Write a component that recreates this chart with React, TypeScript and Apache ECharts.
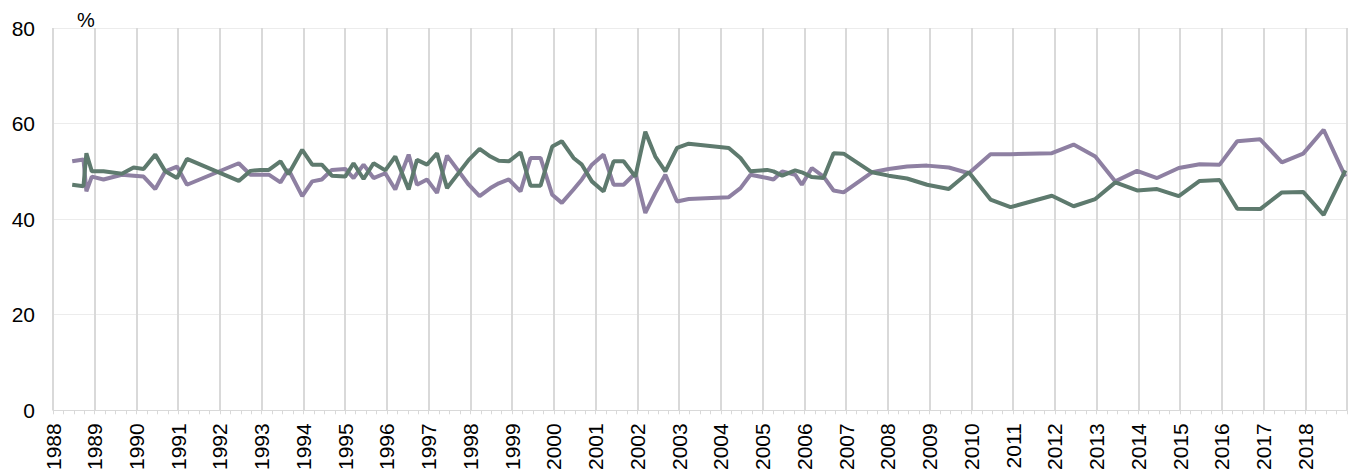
import React, { useEffect, useRef } from "react";
import * as echarts from "echarts";

const dates = [
  1988.46, 1988.73, 1988.8, 1988.93, 1989.21, 1989.65, 1989.93, 1990.17, 1990.45, 1990.69,
  1990.97, 1991.21, 1992.45, 1992.73, 1992.97, 1993.17, 1993.45, 1993.64, 1993.97, 1994.21,
  1994.44, 1994.68, 1995.0, 1995.2, 1995.44, 1995.68, 1995.96, 1996.2, 1996.52, 1996.72,
  1996.96, 1997.2, 1997.44, 1997.96, 1998.22, 1998.48, 1998.68, 1998.92, 1999.2, 1999.44,
  1999.68, 1999.96, 2000.19, 2000.47, 2000.67, 2000.91, 2001.19, 2001.43, 2001.67, 2001.95,
  2002.19, 2002.43, 2002.67, 2002.95, 2003.23, 2004.19, 2004.47, 2004.71, 2005.11, 2005.26,
  2005.47, 2005.78, 2005.94, 2006.18, 2006.46, 2006.7, 2006.94, 2007.62, 2008.02, 2008.46,
  2008.94, 2009.46, 2009.94, 2010.46, 2010.94, 2011.93, 2012.45, 2012.97, 2013.45, 2013.97,
  2014.45, 2014.97, 2015.47, 2015.95, 2016.37, 2016.92, 2017.44, 2017.95, 2018.44, 2018.96,
];

const greenValues = [
  47.2, 46.9, 53.8, 50.0, 50.0, 49.5, 50.8, 50.5, 53.5, 50.0,
  48.6, 52.6, 48.0, 50.1, 50.3, 50.3, 52.1, 49.4, 54.5, 51.4,
  51.4, 49.1, 48.9, 51.7, 48.4, 51.7, 50.2, 53.1, 46.2, 52.4,
  51.4, 53.8, 46.5, 52.4, 54.7, 53.1, 52.2, 52.1, 54.0, 47.0,
  47.0, 55.2, 56.3, 52.8, 51.4, 47.9, 45.8, 52.1, 52.1, 48.9,
  58.3, 53.1, 50.0, 54.9, 55.8, 54.9, 52.8, 50.0, 50.3, 50.0,
  49.1, 50.2, 49.8, 48.8, 48.6, 53.8, 53.7, 49.8, 49.1, 48.5,
  47.2, 46.3, 49.8, 44.1, 42.5, 44.9, 42.7, 44.2, 47.7, 46.0,
  46.3, 44.8, 48.0, 48.2, 42.2, 42.1, 45.6, 45.7, 40.9, 50.2,
];

const purpleValues = [
  52.1, 52.5, 45.8, 48.9, 48.3, 49.3, 49.1, 48.9, 46.3, 50.0,
  51.0, 47.2, 51.7, 49.3, 49.3, 49.3, 47.7, 50.4, 44.8, 47.9,
  48.3, 50.3, 50.5, 48.6, 51.4, 48.6, 49.6, 46.2, 53.5, 47.2,
  48.3, 45.5, 53.3, 47.2, 44.8, 46.5, 47.5, 48.3, 45.8, 52.8,
  52.8, 45.1, 43.4, 46.2, 48.3, 51.4, 53.5, 47.2, 47.2, 49.6,
  41.3, 45.5, 49.3, 43.7, 44.2, 44.6, 46.5, 49.3, 48.6, 48.3,
  50.0, 49.3, 47.2, 50.7, 48.9, 46.0, 45.6, 49.8, 50.5, 51.0,
  51.2, 50.8, 49.6, 53.6, 53.6, 53.8, 55.6, 53.1, 47.9, 50.1,
  48.6, 50.7, 51.5, 51.4, 56.3, 56.7, 51.9, 53.7, 58.7, 48.9,
];

const yearMin = 1988;
const yearMax = 2019;
const yTicks = [0, 20, 40, 60, 80];

const FONT = "'Liberation Sans', Arial, sans-serif";

export default function App() {
  const ref = useRef<HTMLDivElement>(null);
  useEffect(() => {
    if (!ref.current) return;
    const chart = echarts.init(ref.current, null, { renderer: "svg" });
    chart.setOption({
      animation: false,
      backgroundColor: "#ffffff",
      grid: { left: 53, right: 10, top: 28, bottom: 62, containLabel: false },
      graphic: [
        {
          type: "text",
          left: 77,
          top: 10,
          style: { text: "%", fontSize: 20, fontFamily: FONT, fill: "#000" },
        },
      ],
      xAxis: {
        type: "value",
        min: yearMin,
        max: yearMax,
        interval: 1,
        axisLine: { show: true, lineStyle: { color: "#d9d9d9", width: 1 } },
        axisTick: { show: true, length: 4, lineStyle: { color: "#d9d9d9" } },
        minorTick: { show: true, splitNumber: 4, length: 4, lineStyle: { color: "#d9d9d9" } },
        splitLine: { show: true, lineStyle: { color: "#d9d9d9", width: 2 } },
        axisLabel: {
          rotate: 90,
          margin: 13,
          fontSize: 21,
          fontFamily: FONT,
          color: "#000",
          formatter: (v: number) => (v >= yearMax ? "" : String(v)),
        },
      },
      yAxis: {
        type: "value",
        min: yTicks[0],
        max: yTicks[yTicks.length - 1],
        interval: 20,
        axisLine: { show: false },
        axisTick: { show: false },
        splitLine: { show: true, lineStyle: { color: "#ececec", width: 1 } },
        axisLabel: { fontSize: 21, fontFamily: FONT, color: "#000", margin: 18 },
      },
      series: [
        {
          type: "line",
          data: dates.map((d, i) => [d, purpleValues[i]]),
          symbol: "none",
          lineStyle: { color: "#8e80a2", width: 4 },
          itemStyle: { color: "#8e80a2" },
        },
        {
          type: "line",
          data: dates.map((d, i) => [d, greenValues[i]]),
          symbol: "none",
          lineStyle: { color: "#5e7a6e", width: 4 },
          itemStyle: { color: "#5e7a6e" },
        },
      ],
    });
    return () => chart.dispose();
  }, []);
  return (
    <div
      ref={ref}
      style={{ position: "fixed", left: 0, top: 0, width: 1357, height: 473, background: "#fff" }}
    />
  );
}
